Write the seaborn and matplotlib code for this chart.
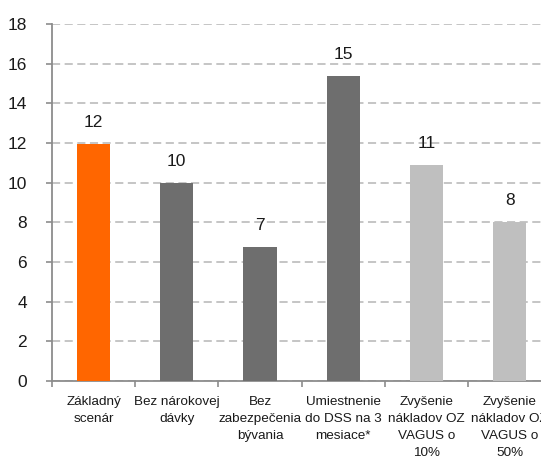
import matplotlib
matplotlib.use("Agg")
import matplotlib.pyplot as plt
from matplotlib.ticker import MultipleLocator, FixedLocator
import seaborn as sns
import pandas as pd

categories = [
    "Základný\nscenár",
    "Bez nárokovej\ndávky",
    "Bez\nzabezpečenia\nbývania",
    "Umiestnenie\ndo DSS na 3\nmesiace*",
    "Zvyšenie\nnákladov OZ\nVAGUS o\n10%",
    "Zvyšenie\nnákladov OZ\nVAGUS o\n50%",
]
values = [11.95, 10.0, 6.75, 15.38, 10.9, 8.0]
colors = ["#FF6600", "#6E6E6E", "#6E6E6E", "#6E6E6E", "#BFBFBF", "#BFBFBF"]

sns.set_theme(style="white")
plt.rcParams["font.family"] = ["Liberation Sans Narrow", "Liberation Sans", "DejaVu Sans"]

df = pd.DataFrame({"scenario": categories, "value": values})

fig = plt.figure(figsize=(5.41, 4.61), dpi=100)
ax = fig.add_axes([0.0961, 0.1735, 0.9227, 0.7744])

sns.barplot(data=df, x="scenario", y="value", hue="scenario",
            palette=colors, width=0.4, legend=False, ax=ax,
            saturation=1, edgecolor="none", zorder=3)

ax.set_xlim(-0.5, len(categories) - 0.5)
ax.set_ylim(0, 18)
ax.yaxis.set_major_locator(MultipleLocator(2))
ax.yaxis.grid(True, linestyle=(0, (4.5, 2.5)), color="#C0C0C0", linewidth=1.3, zorder=0)
ax.xaxis.grid(False)
ax.set_axisbelow(True)

for i, v in enumerate(values):
    ax.annotate(f"{v:.0f}", (i, v), xytext=(0, 10), textcoords="offset points",
                ha="center", va="bottom", fontsize=12.5, color="#1a1a1a",
                family=["Liberation Sans", "DejaVu Sans"])

ax.set_xlabel("")
ax.set_ylabel("")
ax.tick_params(axis="x", which="major", length=0, pad=11, labelsize=9.7, labelcolor="#1a1a1a")
for lbl in ax.get_xticklabels():
    lbl.set_linespacing(1.55)
ax.xaxis.set_minor_locator(FixedLocator([k - 0.5 for k in range(len(categories) + 1)]))
ax.tick_params(axis="x", which="minor", length=4, width=1.2, color="#8C8C8C", direction="out", bottom=True)
ax.tick_params(axis="y", which="major", length=4, width=1.2, color="#8C8C8C", direction="out",
               left=True, pad=14, labelsize=12.5, labelcolor="#1a1a1a")
for lbl in ax.get_yticklabels():
    lbl.set_family(["Liberation Sans", "DejaVu Sans"])

for side in ["top", "right"]:
    ax.spines[side].set_visible(False)
for side in ["left", "bottom"]:
    ax.spines[side].set_color("#8C8C8C")
    ax.spines[side].set_linewidth(1.3)

fig.savefig("out.png", dpi=100)
